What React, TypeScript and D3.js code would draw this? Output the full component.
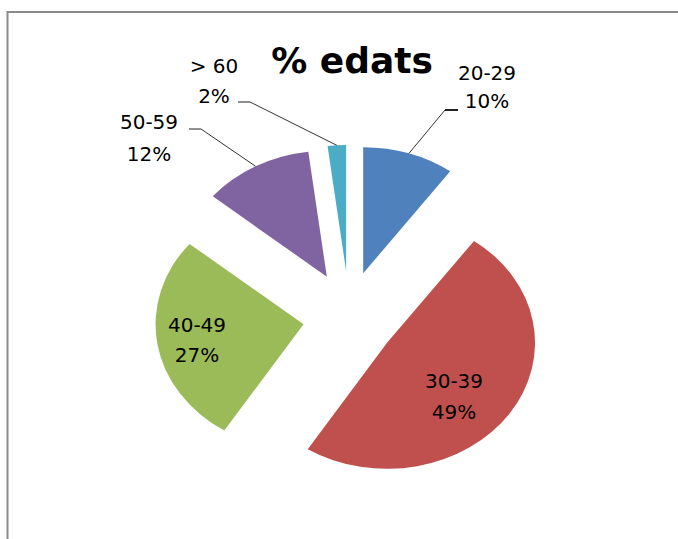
import React from "react";
import * as d3 from "d3";

const categories = ["20-29", "30-39", "40-49", "50-59", "> 60"];
const values = [10, 49, 27, 12, 2];
const percentLabels = ["10%", "49%", "27%", "12%", "2%"];
const colors = ["#4F81BD", "#C0504D", "#9BBB59", "#8064A2", "#4BACC6"];
const title = "% edats";

const W = 678;
const H = 539;
const CX = 349;
const CY = 317;
const EXPLODE = 46;
const RX = 148;
const RY = 126;

// label layout (centre x, baseline of first line, baseline of second line)
const labelLayout: Record<number, { x: number; y1: number; y2: number; leader?: { x1: number; x2: number; y: number } }> = {
  0: { x: 487, y1: 80, y2: 108, leader: { x1: 458, x2: 445, y: 110 } },
  1: { x: 454, y1: 388, y2: 419 },
  2: { x: 197, y1: 332, y2: 362 },
  3: { x: 149, y1: 129, y2: 161, leader: { x1: 189, x2: 201, y: 129 } },
  4: { x: 214, y1: 73, y2: 103, leader: { x1: 238, x2: 250, y: 102 } },
};

export default function App() {
  const pie = d3.pie<number>().sort(null).value((d) => d);
  const arcs = pie(values);
  const arc = d3.arc<d3.PieArcDatum<number>>().innerRadius(0).outerRadius(RY);
  const font = "'DejaVu Sans', sans-serif";

  return (
    <svg
      width={W}
      height={H}
      style={{ position: "absolute", left: 0, top: 0, background: "#fff" }}
    >
      <rect x={0} y={0} width={W} height={H} fill="#fff" />
      <path d={`M7.5,${H} V12 H${W}`} fill="none" stroke="#8a8a8a" strokeWidth={2} />
      <text
        x={352}
        y={73}
        textAnchor="middle"
        fontFamily={font}
        fontWeight="bold"
        fontSize={36}
        fill="#000"
      >
        {title}
      </text>
      {arcs.map((a, i) => {
        const mid = (a.startAngle + a.endAngle) / 2;
        const tx = CX + EXPLODE * Math.sin(mid);
        const ty = CY - EXPLODE * Math.cos(mid);
        return (
          <g key={i} transform={`translate(${tx},${ty}) scale(${RX / RY},1)`}>
            <path d={arc(a) || ""} fill={colors[i]} />
          </g>
        );
      })}
      {arcs.map((a, i) => {
        const L = labelLayout[i];
        if (!L.leader) return null;
        const mid = (a.startAngle + a.endAngle) / 2;
        const tx = CX + EXPLODE * Math.sin(mid);
        const ty = CY - EXPLODE * Math.cos(mid);
        const px = tx + RX * Math.sin(mid);
        const py = ty - RY * Math.cos(mid);
        return (
          <g key={"l" + i}>
            <line x1={L.leader.x1} y1={L.leader.y} x2={L.leader.x2} y2={L.leader.y} stroke="#222" strokeWidth={i === 0 ? 2 : 1} />
            <line x1={L.leader.x2} y1={L.leader.y} x2={px} y2={py} stroke="#333" strokeWidth={1} />
          </g>
        );
      })}
      {arcs.map((a, i) => {
        const L = labelLayout[i];
        return (
          <g key={"t" + i} fontFamily={font} fontSize={20} fill="#000" textAnchor="middle">
            <text x={L.x} y={L.y1}>{categories[i]}</text>
            <text x={L.x} y={L.y2}>{percentLabels[i]}</text>
          </g>
        );
      })}
    </svg>
  );
}
